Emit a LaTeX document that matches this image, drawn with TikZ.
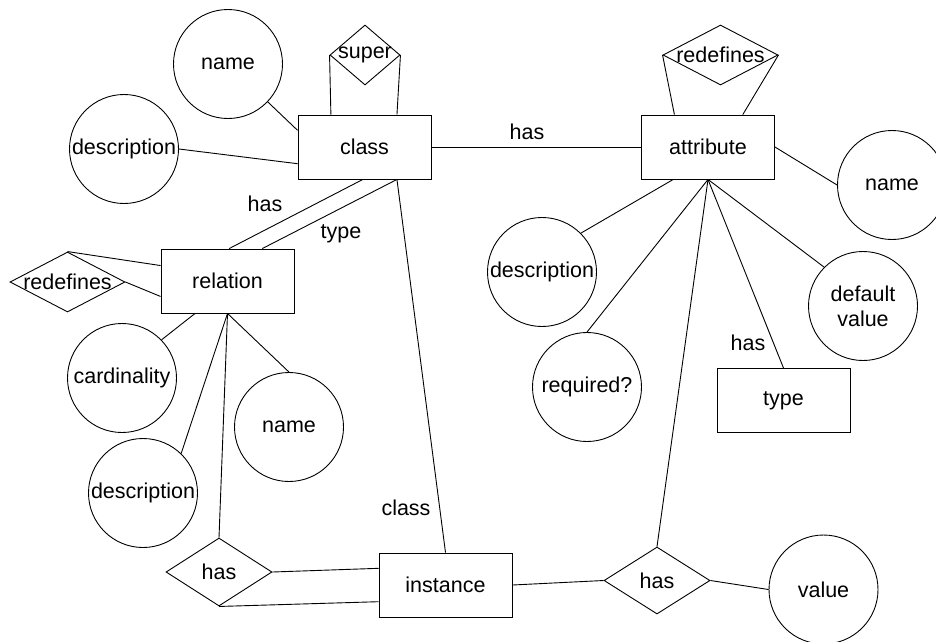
\documentclass[tikz,border=0pt]{standalone}
\usepackage{fontspec}
\setmainfont{Liberation Sans}
\usetikzlibrary{shapes.geometric}
\newcommand{\rtext}[1]{\makebox[0pt]{#1}}

\begin{document}
\begin{tikzpicture}[
        x=1pt, y=-1pt, line width=0.9pt,
        every node/.style={font=\fontsize{21.5}{25}\selectfont, inner sep=2pt},
        entity/.style={rectangle, draw, minimum width=133pt, minimum height=64pt},
        attr/.style={circle, draw, minimum size=109pt, inner sep=0pt, align=center},
        rel/.style={diamond, draw, inner sep=0pt}
    ]
 \useasboundingbox (0,0) rectangle (936,641);
 \node[entity] (class) at (364.5,147) {class};
 \node[entity] (attribute) at (708,147) {attribute};
 \node[entity] (relation) at (227.5,281) {relation};
 \node[entity] (instance) at (445.5,585) {instance};
 \node[entity] (type) at (783.5,400.5) {type};

 \node[attr] (classname) at (228,64) {name};
 \node[attr] (classdesc) at (124,149) {description};
 \node[attr] (attrname) at (892,185) {name};
 \node[attr] (attrdesc) at (542,272) {description};
 \node[attr] (attrdefault) at (863,306) {default\\value};
 \node[attr] (attrreq) at (587,387) {required?};
 \node[attr] (relcard) at (122,378) {cardinality};
 \node[attr] (reldesc) at (143,493) {description};
 \node[attr] (relname) at (289,427) {name};
 \node[attr] (value) at (823.5,589.5) {value};

 \node[rel, minimum width=70pt, minimum height=60pt] (super) at (365,55) {\rtext{super}};
 \node[rel, minimum width=115pt, minimum height=60pt] (aredef) at (720.5,55) {\rtext{redefines}};
 \node[rel, minimum width=115pt, minimum height=60pt] (rredef) at (67.5,282) {\rtext{redefines}};
 \node[rel, minimum width=106pt, minimum height=68pt] (rhas) at (219,572) {\rtext{has}};
 \node[rel, minimum width=106pt, minimum height=67pt] (ahas) at (657,580.5) {\rtext{has}};

 \node (hasrel) at (265,204) {has};
 \node (typerel) at (341,234) {type};
 \node (hasattr) at (527,132) {has};
 \node (hastype) at (748,343) {has};
 \node (classof) at (406,508) {class};

 \draw (super.west) -- (class.136);
 \draw (super.east) -- (class.45);
 \draw (classname) -- (class.166);
 \draw (classdesc.east) -- (class.194);
 \draw (class) -- (attribute);
 \draw (class.267) -- (relation.87);
 \draw (class.315) -- (relation.43);
 \draw (class.315) -- (instance.north);
 \draw (aredef.west) -- (attribute.136);
 \draw (aredef.east) -- (attribute.43);
 \draw (attribute.east) -- (attrname.west);
 \draw (attribute.223) -- (attrdesc.45);
 \draw (attribute.south) -- (attrreq.north);
 \draw (attribute.south) -- (attrdefault.135);
 \draw (attribute.south) -- (type.north);
 \draw (attribute.south) -- (ahas.north);
 \draw (rredef.north) -- (relation.167);
 \draw (rredef.east) -- (relation.193);
 \draw (relation.225) -- (relcard.44);
 \draw (relation.south) -- (reldesc.46);
 \draw (relation.south) -- (relname.north);
 \draw (relation.south) -- (rhas.north);
 \draw (rhas.east) -- (instance.166);
 \draw (rhas.south) -- (instance.194);
 \draw (instance.east) -- (ahas.west);
 \draw (ahas.east) -- (value.west);
\end{tikzpicture}
\end{document}
